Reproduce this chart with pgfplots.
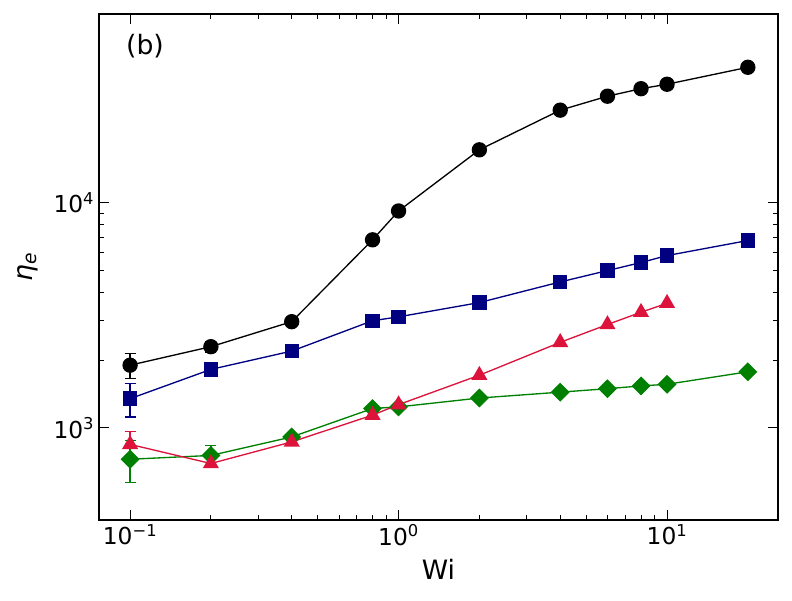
\documentclass[border=0pt]{standalone}
\usepackage{fontspec}
\setmainfont{DejaVu Sans}
\usepackage{pgfplots}
\pgfplotsset{compat=1.18}

\definecolor{navyc}{HTML}{000080}
\definecolor{crimsonc}{HTML}{DC143C}
\definecolor{greenc}{HTML}{008000}

\pgfplotsset{errstyle/.style={only marks, mark=none, forget plot,
  error bars/.cd, y dir=both, y explicit, error mark=|,
  error bar style={line width=1pt}, error mark options={mark size=4.1pt, line width=1pt}}}

\begin{document}
\begin{tikzpicture}
\begin{axis}[
  xmode=log, ymode=log,
  scale only axis,
  width=509.25pt, height=379.5pt,
  xmin=0.0766, xmax=25.9, ymin=390, ymax=69000,
  axis line style={line width=1.1pt},
  tick align=inside, tick pos=both,
  major tick length=7.5pt, minor tick length=3.75pt,
  every tick/.style={black, line width=0.75pt},
  xtick={0.1,1,10},
  xticklabels={10\textsuperscript{−1},10\textsuperscript{0},10\textsuperscript{1}},
  ytick={1000,10000},
  yticklabels={10\textsuperscript{3},10\textsuperscript{4}},
  tick label style={font=\fontsize{17.5}{20}\selectfont},
  xlabel={Wi},
  ylabel={\itshape η\textsubscript{e}},
  label style={font=\fontsize{20}{24}\selectfont},
  xlabel style={at={(axis description cs:0.5,-0.097)}, anchor=center},
  ylabel style={at={(axis description cs:-0.1046,0.5)}, anchor=center, rotate=0},
  clip=false,
]
% error bars
\addplot[black, errstyle] coordinates {(0.1,1900) +- (0,240) (0.2,2296) +- (0,130)};
\addplot[navyc, errstyle] coordinates {(0.1,1349) +- (0,230)};
\addplot[crimsonc, errstyle] coordinates {(0.1,845) +- (0,118)};
\addplot[greenc, errstyle] coordinates {(0.1,726) +- (0,155) (0.2,755) +- (0,82)};

% green diamonds
\addplot[greenc, line width=1pt, mark=square*, mark size=4.5pt, mark options={rotate=45}]
  coordinates {(0.1,726) (0.2,755) (0.4,912) (0.8,1220) (1,1240) (2,1358) (4,1442) (6,1494) (8,1537) (10,1563) (20,1776)};
% crimson triangles
\addplot[crimsonc, line width=1pt, mark=triangle*, mark size=6pt]
  coordinates {(0.1,845) (0.2,695) (0.4,867) (0.8,1140) (1,1269) (2,1715) (4,2400) (6,2880) (8,3265) (10,3580)};
% navy squares
\addplot[navyc, line width=1pt, mark=square*, mark size=4.9pt]
  coordinates {(0.1,1349) (0.2,1820) (0.4,2195) (0.8,2994) (1,3115) (2,3605) (4,4452) (6,5000) (8,5430) (10,5830) (20,6800)};
% black circles
\addplot[black, line width=1pt, mark=*, mark size=5.25pt]
  coordinates {(0.1,1900) (0.2,2296) (0.4,2965) (0.8,6850) (1,9200) (2,17200) (4,25800) (6,29760) (8,32140) (10,33630) (20,40000)};

\node[anchor=west, font=\fontsize{20}{24}\selectfont] at (axis description cs:0.033,0.937) {(b)};
\end{axis}
\path (current axis.south west) ++(-74.25pt,-60pt);
\path (current axis.north east) ++(10.5pt,10.5pt);
\end{tikzpicture}
\end{document}
